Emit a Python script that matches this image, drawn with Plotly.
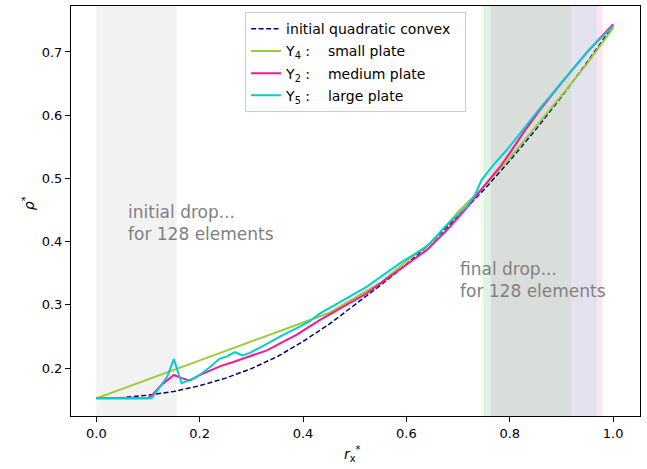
import plotly.graph_objects as go

# ---------------- data ----------------
quad_x = [0.0, 0.05, 0.1, 0.15, 0.2, 0.25, 0.3, 0.35, 0.4, 0.45, 0.5,
          0.55, 0.6, 0.65, 0.7, 0.75, 0.8, 0.85, 0.9, 0.95, 1.0]
quad_rho = [0.152, 0.153, 0.157, 0.163, 0.172, 0.184, 0.199, 0.218, 0.242, 0.269, 0.300,
            0.331, 0.364, 0.400, 0.440, 0.482, 0.528, 0.577, 0.629, 0.684, 0.742]

y4_x = [0.0, 0.45, 0.5, 0.55, 0.6, 0.65, 0.7, 0.75, 0.8, 0.85, 0.9, 0.95, 1.0]
y4_rho = [0.152, 0.287, 0.311, 0.335, 0.369, 0.400, 0.447, 0.487, 0.532, 0.581, 0.631, 0.682, 0.738]

y2_x = [0.0, 0.1, 0.11, 0.126, 0.15, 0.165, 0.181, 0.2, 0.22, 0.24, 0.265, 0.297,
        0.33, 0.362, 0.388, 0.413, 0.433, 0.523, 0.587, 0.639, 0.678, 0.716, 0.749,
        0.781, 0.8, 0.826, 0.858, 0.9, 0.95, 1.0]
y2_rho = [0.152, 0.152, 0.159, 0.173, 0.189, 0.184, 0.180, 0.189, 0.196, 0.203, 0.2095, 0.218,
          0.228, 0.2416, 0.253, 0.266, 0.276, 0.318, 0.355, 0.3865, 0.418, 0.4525, 0.4866,
          0.518, 0.540, 0.572, 0.608, 0.651, 0.700, 0.744]

y5_x = [0.0, 0.107, 0.137, 0.150, 0.165, 0.181, 0.195, 0.217, 0.239, 0.252, 0.268, 0.283,
        0.297, 0.323, 0.355, 0.388, 0.413, 0.433, 0.523, 0.587, 0.639, 0.678, 0.716,
        0.7325, 0.745, 0.766, 0.794, 0.858, 0.923, 0.955, 1.0]
y5_rho = [0.152, 0.152, 0.186, 0.214, 0.176, 0.181, 0.186, 0.1995, 0.215, 0.218, 0.225, 0.220,
          0.224, 0.235, 0.2495, 0.263, 0.274, 0.2865, 0.3285, 0.3655, 0.392, 0.426, 0.455,
          0.4735, 0.497, 0.519, 0.5446, 0.6105, 0.6737, 0.705, 0.741]

# shaded bands: (x0, x1, colour)
bands = [
    (0.0, 0.1555, "#f2f2f2"),
    (0.744, 0.749, "#fafae6"),
    (0.749, 0.763, "#dcf4e4"),
    (0.763, 0.920, "#d9dedb"),
    (0.920, 0.970, "#e5e2f0"),
    (0.970, 0.9795, "#fde4f0"),
]

x_ticks = [0.0, 0.2, 0.4, 0.6, 0.8, 1.0]
y_ticks = [0.2, 0.3, 0.4, 0.5, 0.6, 0.7]

FONT = "DejaVu Sans"
NB = "\u00a0"

fig = go.Figure()

fig.add_trace(go.Scatter(x=quad_x, y=quad_rho, mode="lines",
                         name="initial quadratic convex" + NB * 2,
                         line=dict(color="#000080", width=1.5, dash="5px,2.5px"), legendgroup="a"))
fig.add_trace(go.Scatter(x=y4_x, y=y4_rho, mode="lines",
                         name="Y<sub>4</sub>" + NB + ":" + NB * 4 + "small plate",
                         line=dict(color="#9acd32", width=2), legendgroup="b"))
fig.add_trace(go.Scatter(x=y2_x, y=y2_rho, mode="lines",
                         name="Y<sub>2</sub>" + NB + ":" + NB * 4 + "medium plate",
                         line=dict(color="#ff1493", width=2), legendgroup="c"))
fig.add_trace(go.Scatter(x=y5_x, y=y5_rho, mode="lines",
                         name="Y<sub>5</sub>" + NB + ":" + NB * 4 + "large plate",
                         line=dict(color="#00ced1", width=2), legendgroup="d"))

for x0, x1, col in bands:
    fig.add_shape(type="rect", xref="x", yref="paper", x0=x0, x1=x1, y0=0, y1=1,
                  fillcolor=col, line=dict(width=0), layer="below")

fig.add_annotation(x=0.058, y=0.429, xref="x", yref="y", xanchor="left", yanchor="middle",
                   text="initial drop...<br>for 128 elements", showarrow=False, align="left",
                   font=dict(family=FONT, size=17, color="#808080"))
fig.add_annotation(x=0.700, y=0.339, xref="x", yref="y", xanchor="left", yanchor="middle",
                   text="final drop...<br>for 128 elements", showarrow=False, align="left",
                   font=dict(family=FONT, size=17, color="#808080"))

# axis titles
fig.add_annotation(x=0.495, y=-0.092, xref="paper", yref="paper", xanchor="center", yanchor="middle",
                   text="<i>r</i><sub>x</sub><sup>*</sup>", showarrow=False,
                   font=dict(family=FONT, size=14, color="black"))
fig.add_annotation(x=-0.075, y=0.52, xref="paper", yref="paper", xanchor="center", yanchor="middle",
                   text="<i>ρ</i><sup>*</sup>", showarrow=False, textangle=-90,
                   font=dict(family=FONT, size=14, color="black"))

axis_common = dict(showline=True, linecolor="black", linewidth=1, mirror=True,
                   ticks="outside", ticklen=5, tickwidth=1, tickcolor="black",
                   showgrid=False, zeroline=False,
                   tickfont=dict(family=FONT, size=13, color="black"))

fig.update_xaxes(range=[-0.049, 1.052], tickvals=x_ticks,
                 ticktext=[f"{v:.1f}" for v in x_ticks], **axis_common)
fig.update_yaxes(range=[0.1241, 0.7727], tickvals=y_ticks,
                 ticktext=[f"{v:.1f}" for v in y_ticks], **axis_common)

fig.update_layout(
    width=647, height=469,
    margin=dict(l=71, r=7, t=6, b=53),
    plot_bgcolor="white", paper_bgcolor="white",
    font=dict(family=FONT, size=14, color="black"),
    showlegend=True,
    legend=dict(x=0.306, y=0.985, xanchor="left", yanchor="top",
                bgcolor="rgba(255,255,255,0.85)", bordercolor="#cccccc", borderwidth=1,
                font=dict(family=FONT, size=14, color="black"),
                traceorder="grouped", tracegroupgap=1, itemwidth=30),
)

fig.write_html("out.html", config={"displayModeBar": False},
               post_script="document.body.style.margin='0';document.body.style.overflow='hidden';")
